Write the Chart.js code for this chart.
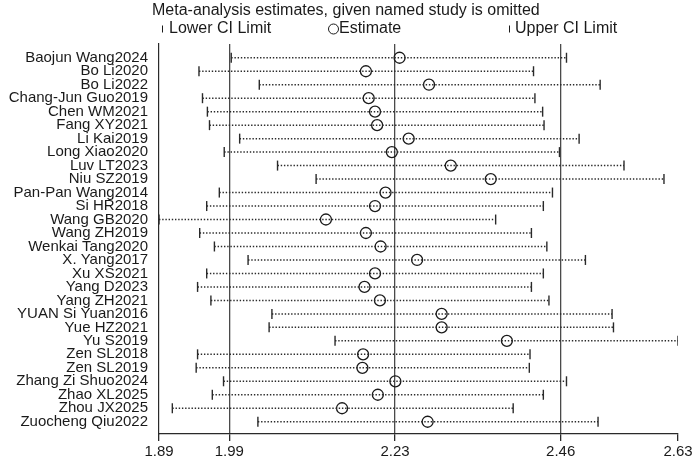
<!DOCTYPE html>
<html>
<head>
<meta charset="utf-8">
<title>Meta-analysis estimates, given named study is omitted</title>
<script src="https://cdn.jsdelivr.net/npm/chart.js@4.4.1/dist/chart.umd.min.js"></script>
<style>
  html, body { margin: 0; padding: 0; background: #fff; }
  #wrap { width: 700px; height: 463px; }
</style>
</head>
<body>
<div id="wrap"><canvas id="infChart" width="700" height="463"></canvas></div>
<script>
// studies, top to bottom
const estudos = [
  "Baojun Wang2024", "Bo Li2020", "Bo Li2022", "Chang-Jun Guo2019", "Chen WM2021",
  "Fang XY2021", "Li Kai2019", "Long Xiao2020", "Luv LT2023", "Niu SZ2019",
  "Pan-Pan Wang2014", "Si HR2018", "Wang GB2020", "Wang ZH2019", "Wenkai Tang2020",
  "X. Yang2017", "Xu XS2021", "Yang D2023", "Yang ZH2021", "YUAN Si Yuan2016",
  "Yue HZ2021", "Yu S2019", "Zen SL2018", "Zen SL2019", "Zhang Zi Shuo2024",
  "Zhao XL2025", "Zhou JX2025", "Zuocheng Qiu2022"
];
const estimativa = [
  2.233, 2.185, 2.275, 2.189, 2.198, 2.201, 2.246, 2.222, 2.306, 2.363,
  2.213, 2.198, 2.128, 2.185, 2.206, 2.258, 2.198, 2.183, 2.205, 2.293,
  2.293, 2.386, 2.181, 2.180, 2.227, 2.202, 2.151, 2.273
];
const limiteInferior = [
  1.993, 1.947, 2.033, 1.952, 1.959, 1.962, 2.005, 1.983, 2.059, 2.114,
  1.976, 1.958, 1.890, 1.948, 1.969, 2.017, 1.958, 1.945, 1.964, 2.051,
  2.047, 2.141, 1.945, 1.943, 1.982, 1.966, 1.909, 2.031
];
const limiteSuperior = [
  2.471, 2.424, 2.519, 2.426, 2.437, 2.439, 2.489, 2.461, 2.553, 2.610,
  2.451, 2.438, 2.370, 2.421, 2.443, 2.498, 2.438, 2.421, 2.446, 2.536,
  2.538, 2.630, 2.419, 2.418, 2.471, 2.438, 2.395, 2.516
];
// overall: lower CI, estimate, upper CI (vertical lines) and axis ends
const linhasGerais = [1.9902, 2.2265, 2.4627];
const ticksX = [1.89, 1.9902, 2.2265, 2.4627, 2.63];

const FONTE = "'Liberation Sans', Arial, Helvetica, sans-serif";
const COR_TEXTO = "#1a1a1a";
const COR_LINHA = "#2a2a2a";

// dotted CI line per study
const linhasIC = estudos.map((nome, i) => ({
  type: "scatter",
  label: nome,
  showLine: true,
  data: [{ x: limiteInferior[i], y: i + 1 }, { x: limiteSuperior[i], y: i + 1 }],
  borderColor: COR_LINHA,
  borderWidth: 1.5,
  borderDash: [1.4, 1.8],
  pointRadius: 0
}));

const pontosInf = {
  label: "Lower CI Limit",
  data: limiteInferior.map((v, i) => ({ x: v, y: i + 1 })),
  pointStyle: "line",
  rotation: 90,
  radius: 5,
  borderColor: COR_LINHA,
  borderWidth: 1.4
};
const pontosSup = {
  label: "Upper CI Limit",
  data: limiteSuperior.map((v, i) => ({ x: v, y: i + 1 })),
  pointStyle: "line",
  rotation: 90,
  radius: 5,
  borderColor: COR_LINHA,
  borderWidth: 1.4
};
const pontosEst = {
  label: "Estimate",
  data: estimativa.map((v, i) => ({ x: v, y: i + 1 })),
  pointStyle: "circle",
  radius: 5.5,
  borderColor: "#1a1a1a",
  backgroundColor: "rgba(0,0,0,0)",
  borderWidth: 1.3
};

// title and legend, Stata style
const legendaStata = {
  id: "legendaStata",
  afterDraw(chart) {
    const ctx = chart.ctx;
    ctx.save();
    ctx.fillStyle = COR_TEXTO;
    ctx.strokeStyle = COR_TEXTO;
    ctx.textBaseline = "middle";
    ctx.textAlign = "left";
    ctx.font = "16px " + FONTE;
    ctx.fillText("Meta-analysis estimates, given named study is omitted", 152, 10.5);

    ctx.lineWidth = 1;
    ctx.beginPath();
    ctx.moveTo(162.5, 25.5); ctx.lineTo(162.5, 32.5);
    ctx.moveTo(509.5, 25.5); ctx.lineTo(509.5, 32.5);
    ctx.stroke();
    ctx.beginPath();
    ctx.arc(333.5, 29, 5, 0, Math.PI * 2);
    ctx.stroke();

    ctx.fillText("Lower CI Limit", 169, 29);
    ctx.fillText("Estimate", 339, 29);
    ctx.fillText("Upper CI Limit", 515, 29);
    ctx.restore();
  }
};

function desenharGrafico() {
  const ctx = document.getElementById("infChart").getContext("2d");
  new Chart(ctx, {
    type: "scatter",
    data: { datasets: [...linhasIC, pontosInf, pontosSup, pontosEst] },
    options: {
      responsive: false,
      animation: false,
      events: [],
      layout: { padding: { top: 44, right: 22, bottom: 0, left: 0 } },
      plugins: {
        legend: { display: false },
        title: { display: false },
        tooltip: { enabled: false }
      },
      scales: {
        x: {
          type: "linear",
          min: 1.89,
          max: 2.63,
          afterBuildTicks: (s) => { s.ticks = ticksX.map(v => ({ value: v })); },
          afterFit: (s) => { s.height = 29; },
          ticks: {
            autoSkip: false,
            maxRotation: 0,
            padding: 2,
            color: COR_TEXTO,
            font: { family: FONTE, size: 15 },
            callback: (v) => Number(v).toFixed(2)
          },
          grid: {
            drawOnChartArea: true,
            tickLength: 7,
            lineWidth: 1.3,
            color: (c) => (c.tick && linhasGerais.includes(c.tick.value)) ? "#4a4a4a" : "rgba(0,0,0,0)",
            tickColor: COR_LINHA
          },
          border: { display: true, color: COR_LINHA, width: 1.2 }
        },
        y: {
          type: "linear",
          reverse: true,
          min: -0.02,
          max: 28.91,
          afterBuildTicks: (s) => { s.ticks = estudos.map((_, i) => ({ value: i + 1 })); },
          afterFit: (s) => { s.width = 159; },
          ticks: {
            autoSkip: false,
            padding: 11,
            color: COR_TEXTO,
            font: { family: FONTE, size: 15 },
            callback: (v) => estudos[v - 1]
          },
          grid: { display: true, drawOnChartArea: false, drawTicks: false },
          border: { display: true, color: COR_LINHA, width: 1.2 }
        }
      }
    },
    plugins: [legendaStata]
  });
}

document.addEventListener("DOMContentLoaded", desenharGrafico);
</script>
</body>
</html>
